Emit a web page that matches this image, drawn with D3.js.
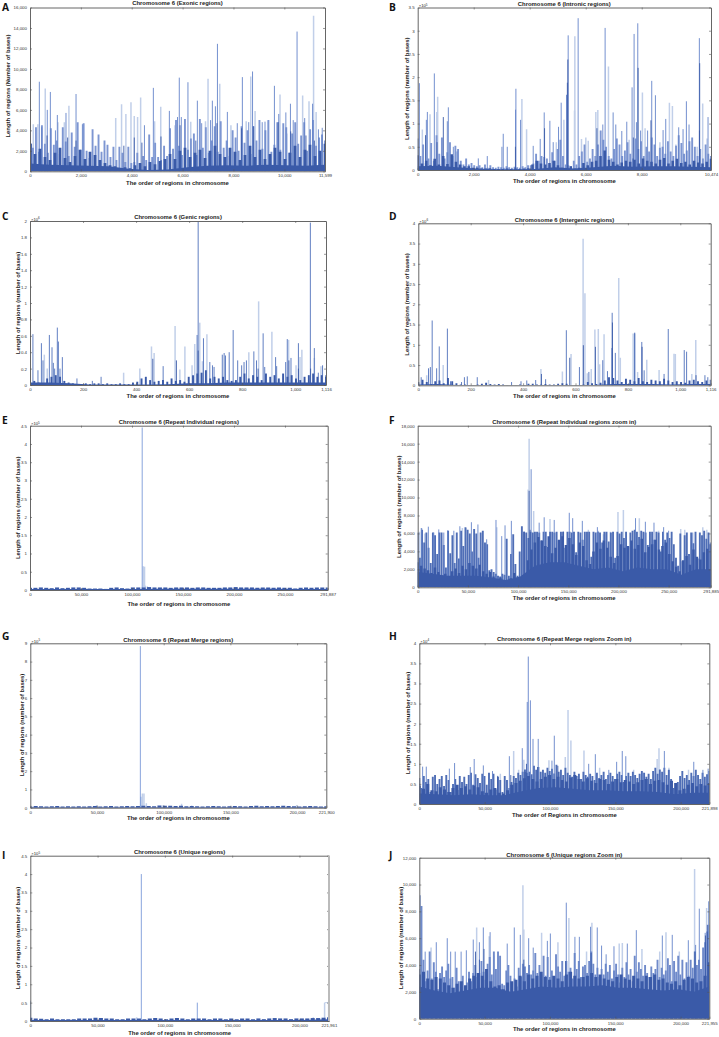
<!DOCTYPE html>
<html>
<head>
<meta charset="utf-8">
<script src="https://cdnjs.cloudflare.com/ajax/libs/d3/7.8.5/d3.min.js"></script>
<style>
body{margin:0;background:#fff;}
svg{display:block;}
text{font-family:"Liberation Sans",Arial,sans-serif;fill:#222;}
.axis path{stroke:#666;stroke-width:1;}
.axis line{stroke:#555;stroke-width:.6;}
.axis text{font-size:4.4px;fill:#333;}
.ptitle,.xlab,.ylab{font-weight:bold;text-anchor:middle;}
.letter{font-family:"Open Sans",sans-serif;font-weight:bold;font-size:10.2px;fill:#111;}
</style>
</head>
<body>
<svg id="fig" width="719" height="1037"></svg>
<script>
// colours of the stacked line plots
var cLight = "#c1cfe9", cMid = "#6483c9", cHaze = "#7d96d2", cDark = "#3a5aa8";

// A exonic
var exonicLight = [[600,8100],[1530,6400],[3600,6550],[3970,6750],[4350,7200],[5140,6300],[7000,9050],[7460,8550],[8680,9250],[8850,5900],[9830,7500],[10720,7400],[10970,6850],[11150,15200],[4900,4900],[3370,5200],[3770,5600],[4100,5400],[4230,5300],[5700,4500],[6320,4850],[6900,4900],[7900,4500],[8500,4900],[9370,4900],[10100,3700],[11250,5800],[310,4600],[130,4600],[1350,4800],[1100,4800]];
var exonicMid = [[367,8750],[800,7750],[1810,7550],[1415,5700],[1075,5500],[4850,8150],[5480,5900],[5870,9150],[6210,8700],[6580,6900],[7170,6900],[7370,12450],[7290,6350],[7760,5800],[8350,9200],[8750,9750],[9240,4850],[9610,8350],[9780,5600],[10060,5750],[10240,6600],[10500,13650],[11110,6600],[11340,4100],[11490,4250],[460,4300],[680,6000],[1000,4000],[2060,4600],[4500,4500],[5800,5300],[5950,5300],[6750,4700],[7100,5000],[8150,4700],[8600,4800],[9130,4800],[10350,5000],[10800,5200]];
var exonicDark = [[60,2700],[670,3500],[1480,3300],[1810,3000],[3690,2500],[4100,3300],[4400,2800],[5150,3400],[5900,4500],[6520,3000],[7350,4700],[8320,4200],[8780,4400],[9760,4800],[10250,3900],[10850,3500],[11180,3000]];
var exonicBase = [2700,1700,2200,1400,1100,1800,2300,1300,900,1500,2100,1200,1900,1600,1100,800,600,500,300,400,300,600,800,500,900,700,1000,1200,1700,1200,2000,2300,1400,1800,2100,1300,2000,2500,1700,1400,2300,1900,1100,1600,2500,1400,2100,1200,1700,2300,1900,1200,1800,2500,1400,2100,2600,1500,2000,2700];
var exonicFloor = [750,650,600,550,500,250,120,180,400,550,600,550,650,600,550,650];
var exonicHaze = [3400,2300,4300,1900,4500,2700,1800,4200,2600,3000,1700,4300,2900,1500,3800,2400,4800,2100,4700,2000,1300,4100,2500,3600,1900,3000,2600,1400,2400,1100,2400,1800,900,2400,800,900,1800,700,1500,1100,3600,1400,2800,1400,1100,2500,1500,4200,2200,5000,2500,1600,5100,2100,3200,3700,1600,5100,2300,4300,1800,3000,4400,1900,4900,2300,3000,1500,4000,3300,2000,4400,2800,4000,1700,4400,3000,5000,2200,4000,5000,1900,2600,4800,2100,4700,4300,1800,3700,4800,2700,3500,4800,2000,4100,5000,2500,3300,3600,3000];

// B intronic, x 10^5
var intronicLight = [[166,.87],[440,1.2],[713,1.58],[680,1.25],[3721,1.53],[3888,.88],[5220,1.08],[5612,2.88],[5600,1.28],[5849,.67],[6004,.7],[6090,.63],[6361,1.25],[6432,1.29],[6812,2.23],[8025,1.67],[8120,.9],[8989,1.45],[9096,1.38],[10177,1.43],[10332,.68],[4950,.6],[7550,.65],[8650,.6],[9220,.55],[9980,.5]];
var intronicMid = [[60,1.87],[309,1.08],[345,1.25],[594,2.08],[1094,1.35],[1058,1.05],[1272,.5],[1403,.4],[2164,.25],[2485,.3],[3055,.78],[3008,.5],[3198,.5],[3507,1.75],[3495,1.3],[3674,1.08],[4125,.52],[4375,.67],[4518,1.24],[4720,1.06],[4839,.6],[5029,.93],[5124,1.45],[5314,1.62],[5374,2.9],[5730,3.27],[6610,.98],[6693,3.06],[6979,1.24],[7074,.98],[7288,.84],[7466,1.04],[7656,1.78],[7728,2.93],[7811,1.03],[7859,3.16],[8358,1.92],[8489,1.61],[8763,.86],[8858,1.1],[9321,.92],[9476,.88],[9595,1.48],[9690,.98],[10058,2.84],[10368,1.14],[8210,.85],[7960,.85]];
var intronicDark = [[915,1.14],[5362,2.38],[5345,1.88],[7870,2.2],[10070,2.3],[10062,.85],[8330,1.07],[6400,.9],[4530,.9],[690,.6],[280,.75],[3490,.5],[7700,.7]];
var intronicBase = [.32,.14,.2,.1,.24,.12,.3,.13,.34,.18,.12,.08,.08,.05,.05,.03,.03,.04,.02,.02,.02,.03,.02,.03,.02,.03,.04,.12,.2,.14,.12,.15,.2,.1,.05,.04,.08,.03,.05,.15,.1,.18,.2,.3,.42,.22,.18,.12,.16,.2,.18,.22,.14,.25,.2,.18,.14,.22,.26,.14,.2,.24,.15,.18,.12,.2,.16,.14,.18,.24];
var intronicFloor = [.08,.09,.06,.03,.015,.015,.02,.06,.03,.06,.09,.07,.08,.08,.07,.06];
var intronicHaze = [.68,.3,.55,.15,.25,.58,.2,.75,.35,.7,.25,.38,.6,.3,.52,.45,.2,.12,.25,.12,.15,.1,.08,.1,.06,.12,.05,.1,.06,.05,.07,.06,.05,.08,.06,.05,.07,.06,.05,.08,.06,.1,.1,.14,.35,.2,.3,.28,.25,.12,.38,.2,.45,.65,.3,.12,.1,.08,.2,.12,.3,.4,.55,.18,.25,.45,.3,.55,.85,.65,.5,.3,.25,.45,.68,.55,.3,.42,.6,.35,.25,.68,.45,.62,.3,.5,.4,.7,.55,.3,.48,.5,.35,.62,.4,.3,.52,.75,.58,.35,.42,.62,.7,.5,.3,.45,.25,.55,.35,.3];

// C genic, x 10^6
var genicLight = [[54,.37],[65,.2],[353,.15],[414,.2],[458,.47],[468,.39],[547,.72],[565,.19],[584,.47],[611,.24],[621,.5],[640,.76],[667,.62],[825,.4],[862,1.02],[912,.65],[1003,.24],[1018,.34],[1025,.43],[1072,.33],[1097,.23],[975,.55],[650,.29]];
var genicMid = [[11,.62],[30,.18],[43,.51],[49,.3],[73,.61],[83,.46],[88,.27],[93,.2],[103,.7],[107,.53],[113,.2],[122,.34],[177,.08],[235,.05],[268,.1],[502,.23],[630,.61],[634,2],[654,.57],[678,.28],[688,.24],[694,.22],[725,.37],[732,.39],[737,.36],[751,.4],[766,.67],[783,.3],[798,.24],[807,.28],[816,.3],[844,.41],[854,.3],[879,.63],[885,.22],[926,.34],[930,.23],[964,.28],[970,.56],[984,.33],[1012,.51],[1057,1.98],[1072,.45],[1087,.15],[1103,.24],[1115,.12]];
var genicDark = [[463,.32],[552,.3],[634,.42],[860,.2],[1012,.2],[1058,.2],[976,.3]];
var genicBase = [.14,.05,.03,.02,.08,.1,.12,.1,.05,.03,.02,.01,.01,.02,.01,.02,.02,.01,.02,.01,.01,.02,.01,.01,.03,.04,.08,.1,.06,.04,.05,.06,.04,.08,.05,.06,.04,.1,.12,.14,.15,.18,.08,.1,.08,.1,.06,.05,.06,.1,.14,.08,.12,.1,.06,.14,.1,.12,.08,.14,.1,.12,.08,.06,.1,.12,.14,.1,.12,.1];
var genicFloor = [.03,.03,.02,.005,.005,.005,.005,.01,.02,.02,.03,.03,.03,.03,.03,.03];

// D intergenic, x 10^6
var interLight = [[32,.25],[95,.5],[268,.13],[468,.4],[550,.34],[583,.77],[629,3.62],[636,2.27],[674,1.38],[687,1.39],[692,.52],[709,1.26],[765,2.65],[771,.68],[820,1.28],[837,.33],[872,.63],[919,.38],[976,.78],[981,.77],[1044,.28],[1059,1.12],[645,.3],[660,.4]];
var interMid = [[11,.2],[39,.42],[46,.45],[53,1.6],[70,.42],[80,.96],[111,1.4],[123,.1],[165,.08],[176,.2],[187,.22],[225,.2],[356,.08],[392,.1],[414,.12],[448,.13],[486,.15],[565,1.36],[615,.45],[651,.33],[704,.62],[722,.35],[739,.92],[740,1.79],[752,.8],[826,1.3],[853,1.07],[862,.37],[938,.28],[954,1.39],[1015,.87],[1024,.83],[1094,.25],[1105,.2],[826,1.28]];
var interDark = [[470,.28],[578,.68],[630,.99],[676,.95],[741,1.55],[854,.95],[1060,.25]];
var interBase = [.08,.14,.08,.03,.1,.12,.05,.18,.1,.05,.02,.02,.01,.01,.02,.04,.06,.03,.02,.03,.02,.01,.01,.01,.02,.01,.04,.04,.02,.02,.03,.02,.02,.04,.05,.04,.01,.01,.01,.02,.08,.05,.03,.06,.12,.2,.18,.12,.08,.16,.14,.1,.18,.1,.08,.14,.12,.1,.16,.12,.08,.1,.08,.06,.12,.14,.1,.08,.12,.14];
var interFloor = [.02,.03,.01,.005,.005,.005,.005,.005,.01,.01,.03,.03,.03,.02,.03,.03];

// E repeat individual, x 10^5
var repIndLight = [[111000,.65],[112300,.64],[113000,.12],[115000,.1]];
var repIndMid = [[110000,4.45]];
var repIndBase = [.06,.06,.07,.06,.05,.07,.05,.06,.07,.07,.06,.04,.04,.04,.03,.06,.07,.05,.04,.07,.07,.07,.08,.07,.07,.07,.06,.07,.07,.07,.06,.07,.07,.06,.06,.06,.07,.07,.08,.07,.07,.07,.06,.07,.07,.06,.07,.06,.06,.04,.06,.07,.06,.07,.07,.07];
var repIndFloor = [.03,.03,.03,.025,.03,.035,.035,.035,.035,.035,.03,.03];

// F repeat individual zoom
var repIndZoomLight = [[2000,6200],[3500,6600],[7000,6000],[111000,16550],[110000,10900],[115500,8500],[131800,7600],[199500,8400],[204900,8600],[220800,7700],[44500,6600],[48000,6600],[66700,4500],[78800,6700],[180000,6300],[185000,5900],[187000,6100],[192000,6200],[240000,6300],[262000,6500],[266000,6400],[284000,6700],[288000,6400],[170000,6400]];
var repIndZoomMid = [[113000,13150],[4000,6600],[10600,6750],[21000,6450],[30000,6350],[42000,6800],[53500,7250],[60000,7000],[68700,5350],[78000,7500],[83700,5700],[87000,6900],[93300,7400],[121000,7200],[126000,7800],[136000,7500],[151000,8300],[154400,7700],[164000,7400],[179000,6700],[217000,7700],[226800,7300],[235400,7200],[245000,6700],[250000,6300],[274000,6100],[36000,6300],[16000,6100],[26000,6100]];
var repIndZoomDark = [[111000,10750],[112000,6400],[106000,6200],[145000,6200]];
var repIndZoomBase = [2800,2400,2100,1900,1600,2200,1700,1300,1500,1200,1800,2100,1600,2400,2000,2700,2400,2100,2500,1800,1500,1700,1200,900,1100,800,700,1000,1600,1100,800,1100,3000,4200,5000,5600,5200,4600,5700,3800,4400,5300,5700,4700,5500,4800,3600,5000,4600,3000,2600,4000,5000,4300,5200,4400,3400,2700,3500,4800,4400,4600,5200,4300,4700,5400,3900,4500,4800,5300,4200,4600,5000,3700,2900,2300,1800,3000,3500,2500,4200,3400,3100,3900,4300,4800];
var repIndZoomFloor = [1700,1500,1300,1300,1300,1100,800,1200,2400,2800,2800,2400,2000,2200,1800,2200,2000,2000,1400,2000,2000];
var repIndZoomHaze = [6100,3300,6400,5000,6100,4400,2700,6100,5800,3700,6100,6100,4700,2200,6300,3800,5800,2700,6100,3200,6300,4600,6700,6400,6000,4000,6500,6000,3300,6100,6300,5000,4800,1900,2000,1700,1500,1300,1200,1500,1400,5400,1300,3700,5900,2600,1300,4000,6800,6200,6100,5500,6200,6100,6200,6200,6100,5200,6200,6200,4500,6200,6200,6100,6200,5200,6200,6200,4400,6200,6200,6100,6200,3900,6200,6100,5300,6200,6200,6200,3400,6200,6100,6200,6100,5000,6200,6200,5100,6100,6200,3300,6200,6000,6200,5500,6200,4500,6100,6300,6400,6200,5600,6300,6200,6100,4700,6200,6200,5300,6200,6100,4000,6200,5300,6100,5500,6200,4800,3300,2400,6000,2900,5800,6100,3700,6100,4900,6200,3200,6100,5800,6300,5400,6100,5000];

// G repeat merge, x 10^5
var repMergeLight = [[84000,.78],[85200,.78],[87000,.25],[113400,.22],[49700,.15],[99700,.15],[199700,.15],[121000,.12]];
var repMergeMid = [[82500,8.85],[82900,.6]];
var repMergeBase = [.07,.09,.08,.06,.08,.09,.07,.08,.06,.08,.07,.08,.09,.07,.08,.09,.07,.08,.09,.08,.09,.1,.09,.08,.12,.11,.1,.09,.1,.08,.09,.08,.07,.08,.09,.08,.07,.08,.09,.08,.07,.09,.1,.08,.09,.08,.09,.1,.09,.08,.07,.08,.09,.08,.07,.08];
var repMergeFloor = [.04,.04,.04,.04,.04,.045,.045,.045,.04,.04,.04,.04];

// H repeat merge zoom, x 10^4
var repMergeZoomLight = [[113800,2.34],[116000,1.58],[111700,1.17],[126000,1.33],[182000,1.12],[183400,1.39],[72200,1.32],[99200,1.09],[80000,1.1],[191000,.9],[206000,.85],[164000,.85],[62000,.75],[138000,.9],[76000,.85]];
var repMergeZoomMid = [[83400,3.67],[82600,2.54],[85000,2.58],[87000,1.62],[91000,1.62],[103300,1.7],[129600,1],[134700,1.24],[151000,1.05],[155300,1.32],[158000,1.19],[187500,1.32],[210000,1.05],[2550,.93],[5350,.93],[27000,1.02],[42000,1.12],[49000,.96],[68900,1.19],[78800,1.39],[101500,1.08],[23000,.88],[39000,.92],[56000,.82],[145000,.85],[171000,.78],[217000,.85],[221000,.88]];
var repMergeZoomDark = [[82000,1],[90500,.92],[106000,.95],[60000,.7],[70000,.72],[81000,.8]];
var repMergeZoomBase = [.46,.38,.5,.34,.32,.42,.36,.3,.4,.48,.4,.44,.36,.46,.42,.32,.28,.36,.4,.28,.26,.34,.48,.52,.58,.64,.7,.62,.56,.62,.68,.72,.62,.68,.6,.56,.66,.72,.62,.56,.64,.58,.52,.62,.6,.5,.56,.62,.54,.6,.56,.5,.54,.6,.62,.5,.58,.6,.54,.48,.58,.52,.34,.38,.48,.52,.44,.5,.46,.52];
var repMergeZoomFloor = [.26,.24,.22,.24,.22,.22,.32,.4,.42,.38,.34,.34,.32,.32,.3,.24,.28,.28];
var repMergeZoomHaze = [.65,.4,.7,.55,.62,.3,.68,.72,.5,.62,.7,.45,.72,.6,.3,.5,.62,.35,.7,.55,.68,.5,.72,.78,.48,.74,.65,.52,.75,.7,.48,.78,.62,.75,.36,.68,.6,.3,.7,.6,.4,.55,.7,.65,.78,.72,.8,.86,.78,.8,.74,.95,.85,.92,.8,.85,.78,.9,.82,.88,.76,.98,.8,.85,.72,.9,.78,.72,.68,.8,.7,.75,.62,.8,.72,.68,.75,.7,.6,.78,.65,.72,.8,.62,.72,.78,.7,.62,.75,.8,.72,.55,.7,.78,.7,.8,.72,.65,.75,.82,.78,.68,.75,.62,.82,.9,.75,.86,.8,.9,.72,.85,.62,.4,.42,.55,.7,.82,.65,.72,.6,.78,.7,.85,.72,.62,.78,.68,.74,.82];

// I unique, x 10^5
var uniqueLight = [[218700,.5],[221700,.5],[79000,.1],[210300,.1]];
var uniqueMid = [[82500,4],[124100,.5],[200,.55]];
var uniqueRun = [[218700,.5],[221700,.5]];
var uniqueBase = [.09,.07,.06,.05,.07,.05,.05,.05,.05,.07,.07,.07,.09,.08,.07,.07,.05,.05,.07,.07,.07,.05,.07,.08,.07,.05,.07,.08,.07,.05,.07,.07,.07,.05,.07,.07,.05,.07,.05,.07,.07,.05,.07,.05,.07,.08,.07,.07,.05,.07,.07,.07,.08,.08,.09,.1];
var uniqueFloor = [.025,.025,.025,.03,.025,.025,.025,.025,.025,.025,.03,.05];

// J unique zoom
var uniqueZoomLight = [[1800,8400],[43900,6800],[53500,6150],[57100,4700],[79300,9950],[80000,6650],[93600,6400],[106100,5700],[114500,7500],[132100,7150],[153000,5600],[155400,5650],[170400,5200],[188800,6450],[210700,11150],[219900,8250],[9000,5300],[184000,5000],[199000,5000],[128000,5000]];
var uniqueZoomMid = [[700,9200],[13000,5700],[21400,6000],[41300,5900],[49000,6800],[54200,6450],[67300,5600],[72700,6800],[77300,6250],[83700,6000],[87200,5300],[98000,5800],[100300,6350],[112500,8650],[119100,6100],[122500,6100],[131100,6850],[136200,6800],[139500,5450],[159200,5600],[166100,6600],[186000,6200],[193600,6250],[205900,5850],[211500,5500],[214300,8200],[221500,8750],[218800,6400],[4500,5000],[24000,5000],[27500,5000],[32000,5000],[36000,5100],[46000,5700],[149000,5400],[143000,4800]];
var uniqueZoomDark = [[220500,7000],[219000,6200],[43000,5000],[49500,5200],[112000,4300],[131500,4900],[211000,5000],[80000,4400],[46000,4400]];
var uniqueZoomBase = [3300,3500,3000,2900,3100,3000,2700,2500,2300,2600,2800,2500,3000,3200,3400,3200,3700,2800,2400,2500,2200,2700,2800,2900,3200,2800,3300,3000,3200,3500,3100,2900,3200,3000,2800,3300,3500,3200,3000,3100,3200,3400,3100,3300,3000,2900,2800,3100,3300,3000,2900,3200,3000,2800,3200,3100,3300,2900,3000,2700,2600,2800,2500,2900,3100,3000,2700,2800,3200,4200];
var uniqueZoomFloor = [2400,2100,1900,2100,2300,2300,2000,2200,2400,2300,2400,2400,2500,2300,2300,2200,2100,2200,2000,2400];
var uniqueZoomHaze = [3700,8400,4400,2800,3600,5000,3000,4200,3500,2200,3400,3900,3100,3600,4100,3000,3100,2300,3800,2800,2100,3200,2400,2700,3500,2800,3400,4000,3100,3400,4300,3500,2900,4100,4600,3300,5000,3700,5000,4700,2600,2500,3600,4000,3200,1900,3000,2400,3800,3100,4100,3900,3400,4000,3300,3600,4900,3400,4000,3300,4700,3200,4600,3100,3600,2900,4800,3900,3500,4300,3200,4300,3500,3800,3000,4900,3700,4300,3100,3900,4000,3400,4300,5000,4100,3300,3800,3100,3700,3300,4100,3500,4000,3000,3600,4100,3300,2700,3800,3100,4200,3300,3700,2800,4700,3500,4200,3700,3200,4000,3400,3100,3900,3400,3700,4400,3100,3800,3300,3600,4500,4000,2800,4300,3500,4700,3300,4400,3000,4200,3200,4400,3800,5000,4000,4400,3700,5300,5700,6500,7000];

var xLabel = "The order of regions in chromosome";

// frame box, label spots and data of each panel
var panels = [
 {id:"A",lx:2,ly:11,box:[30,325,7.5,171.3],xMax:11599,xTicks:[0,2000,4000,6000,8000,10000,11599],yMax:16000,yStep:2000,exp:null,
  title:"Chromosome 6 (Exonic regions)",ty:5,xl:xLabel,xy:185,yl:"Length of regions (Number of bases)",yx:10,yy:86,
  base:exonicBase,baseW:.55,floor:exonicFloor,haze:exonicHaze,light:exonicLight,mid:exonicMid,dark:exonicDark},
 {id:"B",lx:389,ly:11,box:[417.7,711,7.5,170],xMax:10474,xTicks:[0,2000,4000,6000,8000,10474],yMax:3.5,yStep:.5,exp:5,
  title:"Chromosome 6 (Intronic regions)",ty:6,xl:xLabel,xy:183,yl:"Length of regions (number of bases)",yx:408.5,yy:88.7,
  base:intronicBase,baseW:.6,floor:intronicFloor,haze:intronicHaze,light:intronicLight,mid:intronicMid,dark:intronicDark},
 {id:"C",lx:2,ly:219.5,box:[30,326,221,385],xMax:1116,xTicks:[0,200,400,600,800,1000,1116],yMax:2,yStep:.2,exp:6,
  title:"Chromosome 6 (Genic regions)",ty:219,xl:xLabel,xy:398,yl:"Length of regions (number of bases)",yx:20,yy:303,
  base:genicBase,baseW:.45,floor:genicFloor,light:genicLight,mid:genicMid,midColor:"#4f70bb",dark:genicDark},
 {id:"D",lx:389,ly:219.5,box:[418.3,710.7,223.3,385.3],xMax:1116,xTicks:[0,200,400,600,800,1000,1116],yMax:4,yStep:.5,exp:6,
  title:"Chromosome 6 (Intergenic regions)",ty:222,xl:xLabel,xy:398,yl:"Length of regions (number of bases)",yx:408.5,yy:304.5,
  base:interBase,baseW:.45,floor:interFloor,light:interLight,mid:interMid,midColor:"#4f70bb",dark:interDark},
 {id:"E",lx:2,ly:423.5,box:[30,327.7,425.7,590],xMax:291887,xTicks:[0,50000,100000,150000,200000,250000,291887],yMax:4.5,yStep:.5,exp:5,
  title:"Chromosome 6 (Repeat Individual regions)",ty:424,xl:xLabel,xy:606,yl:"Length of regions (number of bases)",yx:20,yy:507.8,
  base:repIndBase,baseW:.75,floor:repIndFloor,light:repIndLight,mid:repIndMid,midColor:"#7b9ad8",dark:[]},
 {id:"F",lx:389,ly:423.5,box:[417.7,710.7,425.7,587.3],xMax:291885,xTicks:[0,50000,100000,150000,200000,250000,291885],yMax:18000,yStep:2000,exp:null,
  title:"Chromosome 6 (Repeat Individual regions zoom in)",ty:424,xl:xLabel,xy:600,yl:"Length of regions (number of bases)",yx:401,yy:506.7,
  base:repIndZoomBase,baseW:.72,floor:repIndZoomFloor,haze:repIndZoomHaze,hazeColor:"#4f6eb6",light:repIndZoomLight,mid:repIndZoomMid,dark:repIndZoomDark},
 {id:"G",lx:2,ly:640,box:[30.3,326.3,643.3,807.7],xMax:221900,xTicks:[0,50000,100000,150000,200000,221900],yMax:9,yStep:1,exp:5,
  title:"Chromosome 6 (Repeat Merge regions)",ty:642,xl:xLabel,xy:820,yl:"Length of regions (number of bases)",yx:23.5,yy:725,
  base:repMergeBase,baseW:.75,floor:repMergeFloor,light:repMergeLight,mid:repMergeMid,midColor:"#7b9ad8",dark:[]},
 {id:"H",lx:389,ly:640,box:[419.3,709.3,643.3,804],xMax:221898,xTicks:[0,50000,100000,150000,200000,221898],yMax:4,yStep:.5,exp:4,
  title:"Chromosome 6 (Repeat Merge regions Zoom in)",ty:641,xl:"The order of Regions in chromosome",xy:816.5,yl:"Length of regions (number of bases)",yx:409.5,yy:723,
  base:repMergeZoomBase,baseW:.72,floor:repMergeZoomFloor,haze:repMergeZoomHaze,hazeColor:"#4f6eb6",light:repMergeZoomLight,mid:repMergeZoomMid,dark:repMergeZoomDark},
 {id:"I",lx:2,ly:859,box:[30.3,329,855.7,1021],xMax:221961,xTicks:[0,50000,100000,150000,200000,221961],yMax:4.5,yStep:.5,exp:5,
  title:"Chromosome 6 (Unique regions)",ty:854,xl:xLabel,xy:1034.5,yl:"Length of regions (number of bases)",yx:20,yy:938,
  base:uniqueBase,baseW:.75,floor:uniqueFloor,light:uniqueLight,mid:uniqueMid,midColor:"#7b9ad8",dark:[],run:uniqueRun,greyEdge:true},
 {id:"J",lx:389,ly:859,box:[419.3,709.3,857.7,1018.7],xMax:221955,xTicks:[0,50000,100000,150000,200000,221955],yMax:12000,yStep:2000,exp:null,
  title:"Chromosome 6 (Unique regions Zoom in)",ty:856.5,xl:xLabel,xy:1031,yl:"Length of regions (number of bases)",yx:403,yy:938,
  base:uniqueZoomBase,baseW:.72,floor:uniqueZoomFloor,haze:uniqueZoomHaze,hazeColor:"#6f8aca",light:uniqueZoomLight,mid:uniqueZoomMid,dark:uniqueZoomDark}
];

var svg = d3.select("#fig");

function drawSpikes(g, data, x, y, color, width){
	g.selectAll(null).data(data).enter().append("line")
		.attr("x1", function(d){ return x(d[0]); })
		.attr("x2", function(d){ return x(d[0]); })
		.attr("y1", y(0))
		.attr("y2", function(d){ return y(d[1]); })
		.attr("stroke", color)
		.attr("stroke-width", width);
}

// readings spread evenly along the x axis
function spread(values, xMax){
	var step = xMax / (values.length - 1);
	return values.map(function(v, k){ return [k*step, v]; });
}

panels.forEach(function(p){
	var x = d3.scaleLinear().domain([0, p.xMax]).range([p.box[0], p.box[1]]);
	var y = d3.scaleLinear().domain([0, p.yMax]).range([p.box[3], p.box[2]]);
	var clipId = "clip" + p.id;
	svg.append("clipPath").attr("id", clipId).append("rect")
		.attr("x", p.box[0]).attr("y", p.box[2])
		.attr("width", p.box[1]-p.box[0]).attr("height", p.box[3]-p.box[2]);
	var g = svg.append("g").attr("clip-path", "url(#" + clipId + ")");

	drawSpikes(g, p.light, x, y, cLight, 1.5);
	if(p.haze){
		drawSpikes(g, spread(p.haze, p.xMax), x, y, p.hazeColor || cHaze, 1.9);
	}
	drawSpikes(g, p.mid, x, y, p.midColor || cMid, .9);
	drawSpikes(g, p.dark, x, y, cDark, .9);

	// dark part: thin bars over a solid floor
	var bandPx = (p.box[1]-p.box[0]) / (p.base.length - 1);
	drawSpikes(g, spread(p.base, p.xMax), x, y, cDark, bandPx*p.baseW);
	var area = d3.area()
		.x(function(d){ return x(d[0]); })
		.y0(y(0))
		.y1(function(d){ return y(d[1]); });
	g.append("path").attr("d", area(spread(p.floor, p.xMax))).attr("fill", cDark);

	if(p.run){
		g.append("path")
			.attr("d", d3.line().x(function(d){ return x(d[0]); }).y(function(d){ return y(d[1]); })(p.run))
			.attr("fill", "none").attr("stroke", cLight).attr("stroke-width", 1);
	}

	var yTicks = d3.range(0, p.yMax + p.yStep/2, p.yStep).map(function(v){ return +v.toFixed(2); });
	var yFmt = p.exp === null ? d3.format(",") : function(d){ return String(d); };
	svg.append("g").attr("class", "axis").attr("transform", "translate(0," + p.box[3] + ")")
		.call(d3.axisBottom(x).tickValues(p.xTicks).tickFormat(d3.format(",")).tickSizeInner(-2).tickSizeOuter(0).tickPadding(3));
	svg.append("g").attr("class", "axis").attr("transform", "translate(0," + p.box[2] + ")")
		.call(d3.axisTop(x).tickValues(p.xTicks.slice(1, -1)).tickFormat("").tickSizeInner(-2).tickSizeOuter(0));
	svg.append("g").attr("class", "axis").attr("transform", "translate(" + p.box[0] + ",0)")
		.call(d3.axisLeft(y).tickValues(yTicks).tickFormat(yFmt).tickSizeInner(-2).tickSizeOuter(0).tickPadding(3));
	svg.append("g").attr("class", "axis").attr("transform", "translate(" + p.box[1] + ",0)")
		.call(d3.axisRight(y).tickValues(yTicks).tickFormat("").tickSizeInner(-2).tickSizeOuter(0));

	if(p.greyEdge){
		svg.append("line").attr("x1", p.box[1]).attr("x2", p.box[1]).attr("y1", p.box[2]).attr("y2", p.box[3])
			.attr("stroke", "#bbb").attr("stroke-width", 2);
	}
	if(p.exp !== null){
		var e = svg.append("text").attr("x", p.box[0]+1).attr("y", p.box[2]-.5).attr("font-size", 4.2).attr("fill", "#333");
		e.append("tspan").text("\u00d710");
		e.append("tspan").text(p.exp).attr("font-size", 3).attr("dy", -1.5);
	}

	svg.append("text").attr("class", "ptitle").attr("x", (p.box[0]+p.box[1])/2).attr("y", p.ty).attr("font-size", 5.9).text(p.title);
	svg.append("text").attr("class", "xlab").attr("x", (p.box[0]+p.box[1])/2).attr("y", p.xy).attr("font-size", 5.9).text(p.xl);
	svg.append("text").attr("class", "ylab").attr("font-size", 5.9)
		.attr("transform", "translate(" + p.yx + "," + p.yy + ") rotate(-90)").text(p.yl);
	svg.append("text").attr("class", "letter").attr("x", p.lx).attr("y", p.ly).text(p.id);
});
</script>
</body>
</html>
